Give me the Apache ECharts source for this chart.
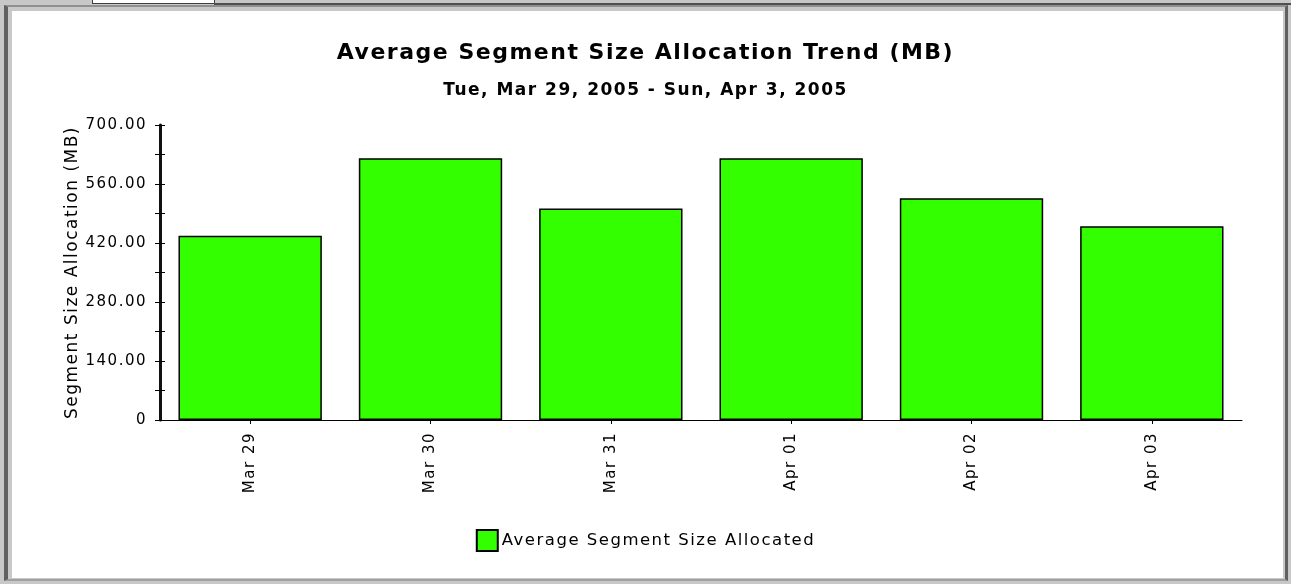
<!DOCTYPE html>
<html>
<head>
<meta charset="utf-8">
<script src="https://cdn.jsdelivr.net/npm/echarts@6/dist/echarts.min.js"></script>
<style>
  html, body { margin: 0; padding: 0; width: 1291px; height: 584px; overflow: hidden; background: #c8c8c8; }
  .abs { position: absolute; box-sizing: border-box; }
</style>
</head>
<body>
<!-- window frame decoration -->
<div class="abs" style="left:0;top:0;width:1291px;height:584px;background:#c8c8c8;"></div>
<div class="abs" style="left:92px;top:0;width:123px;height:4px;background:#ffffff;border:1px solid #404040;border-top:none;"></div>
<div class="abs" style="left:214px;top:3px;width:1077px;height:2px;background:#505050;"></div>
<div class="abs" style="left:4px;top:5px;width:1284px;height:576px;border-left:4px solid #606060;border-top:2px solid #909090;border-right:3px solid #606060;border-bottom:2px solid #a0a0a0;"></div>
<div class="abs" style="left:12px;top:11px;width:1271px;height:567px;background:#ffffff;"></div>
<div id="chart" class="abs" style="left:0;top:0;width:1291px;height:584px;"></div>
<script>
const titleText = 'Average Segment Size Allocation Trend (MB)';
const subtitleText = 'Tue, Mar 29, 2005 - Sun, Apr 3, 2005';
const categories = ['Mar 29', 'Mar 30', 'Mar 31', 'Apr 01', 'Apr 02', 'Apr 03'];
const seriesName = 'Average Segment Size Allocated';
const values = [437, 621, 502, 621, 526, 460];
const yAxisName = 'Segment Size Allocation (MB)';
const yTickValues = [0, 140, 280, 420, 560, 700];
const yTickLabels = ['0', '140.00', '280.00', '420.00', '560.00', '700.00'];

// the reference text is set with wide tracking; apply it to canvas text (drawing and measuring)
(function () {
  const orig = HTMLCanvasElement.prototype.getContext;
  HTMLCanvasElement.prototype.getContext = function (type, opts) {
    const ctx = orig.call(this, type, opts);
    if (ctx && type === '2d' && !ctx.__tracked) {
      ctx.__tracked = true;
      try { ctx.letterSpacing = '1.5px'; } catch (e) {}
    }
    return ctx;
  };
})();

const FONT = 'DejaVu Sans';
const chart = echarts.init(document.getElementById('chart'), null, { renderer: 'canvas' });
const labelFor = v => { const i = yTickValues.indexOf(v); return i >= 0 ? yTickLabels[i] : ''; };

chart.setOption({
  backgroundColor: 'transparent',
  animation: false,
  title: [
    { text: titleText, left: 'center', top: 37,
      textStyle: { fontFamily: FONT, fontWeight: 'bold', fontSize: 22, color: '#000' } },
    { text: subtitleText, left: 'center', top: 76,
      textStyle: { fontFamily: FONT, fontWeight: 'bold', fontSize: 17, color: '#000' } }
  ],
  legend: {
    bottom: 27, left: 'center',
    itemWidth: 21, itemHeight: 21, itemGap: 5,
    icon: 'rect',
    textStyle: { fontFamily: FONT, fontSize: 16.5, color: '#000', padding: [0, 0, 0, -1] },
    data: [seriesName]
  },
  grid: { left: 160, right: 49, top: 125, bottom: 164, containLabel: false },
  xAxis: [
    {
      type: 'category', data: categories,
      axisLine: { show: true, onZero: false, lineStyle: { color: '#000', width: 1 } },
      axisTick: { show: true, alignWithLabel: true, length: 4, lineStyle: { color: '#000' } },
      splitLine: { show: false }, splitArea: { show: false },
      axisLabel: { rotate: 90, margin: 12, fontFamily: FONT, fontSize: 15, color: '#000' }
    },
    {
      type: 'category', data: categories, position: 'bottom',
      axisLine: { show: false, onZero: false },
      axisTick: { show: true, inside: true, alignWithLabel: true, length: 5, lineStyle: { color: '#000' } },
      splitLine: { show: false }, splitArea: { show: false },
      axisLabel: { show: false }
    }
  ],
  yAxis: [
    {
      type: 'value', min: 0, max: 700, interval: 140, position: 'left',
      name: yAxisName, nameLocation: 'middle', nameGap: 78, nameRotate: 90, nameMoveOverlap: false,
      nameTextStyle: { fontFamily: FONT, fontSize: 17, color: '#000' },
      axisLine: { show: true, onZero: false, lineStyle: { color: '#000', width: 1.5 } },
      axisTick: { show: true, length: 5, lineStyle: { color: '#000' } },
      minorTick: { show: true, splitNumber: 2, length: 5, lineStyle: { color: '#000' } },
      splitLine: { show: false }, splitArea: { show: false },
      axisLabel: { margin: 13, fontFamily: FONT, fontSize: 15, color: '#000', formatter: labelFor }
    },
    {
      type: 'value', min: 0, max: 700, interval: 140, position: 'left',
      axisLine: { show: true, onZero: false, lineStyle: { color: '#111', width: 3 } },
      axisTick: { show: true, inside: true, length: 5, lineStyle: { color: '#000' } },
      minorTick: { show: true, splitNumber: 2, length: 5, lineStyle: { color: '#000' } },
      splitLine: { show: false }, splitArea: { show: false },
      axisLabel: { show: false }
    }
  ],
  series: [{
    name: seriesName, type: 'bar', data: values,
    xAxisIndex: 0, yAxisIndex: 0,
    barCategoryGap: '20.5%',
    itemStyle: { color: '#33ff00', borderColor: '#000', borderWidth: 1.5 }
  }]
});
</script>
</body>
</html>
